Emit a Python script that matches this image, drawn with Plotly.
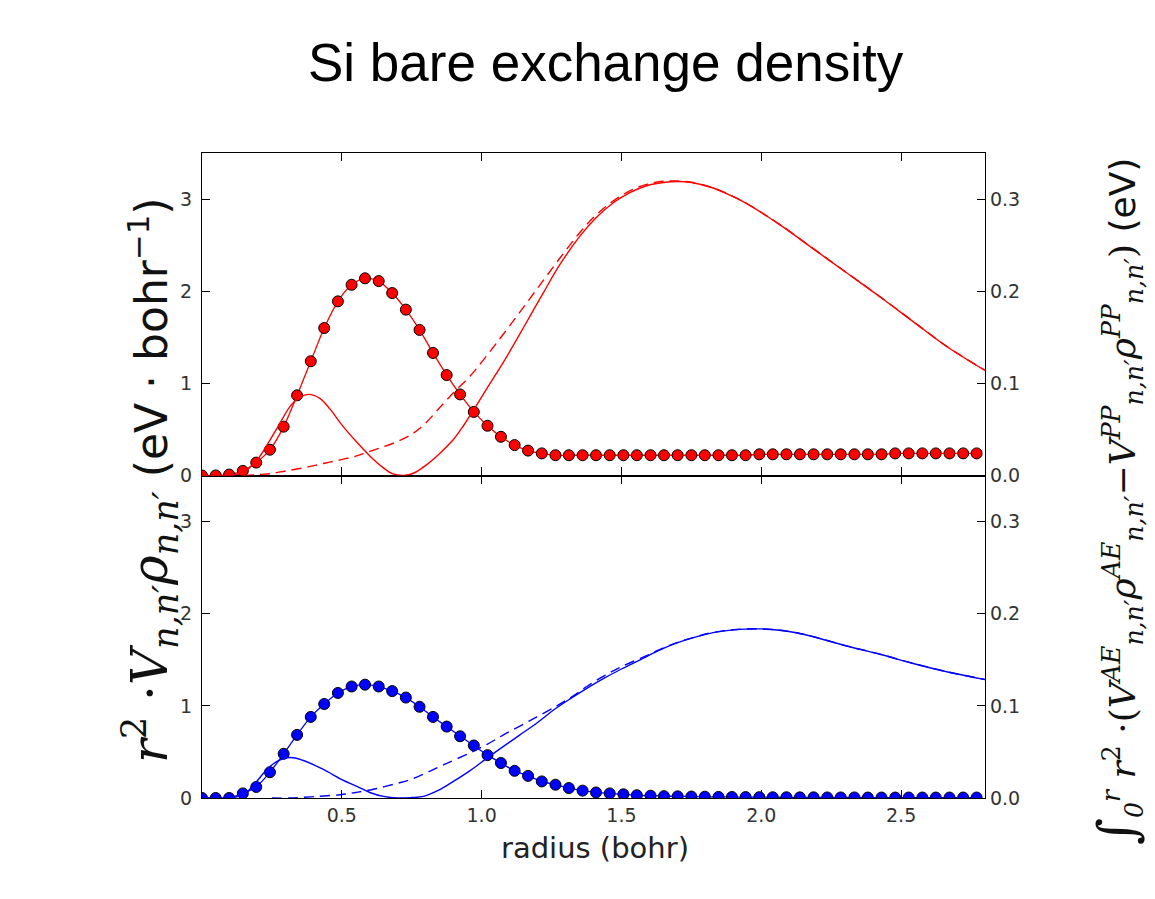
import plotly.graph_objects as go

# ---------------- data ----------------
r_grid = [0.000, 0.049, 0.097, 0.146, 0.194, 0.243, 0.292, 0.340, 0.389, 0.437,
          0.486, 0.535, 0.583, 0.632, 0.680, 0.729, 0.778, 0.826, 0.875, 0.923,
          0.972, 1.021, 1.069, 1.118, 1.166, 1.215, 1.264, 1.312, 1.361, 1.409,
          1.458, 1.507, 1.555, 1.604, 1.652, 1.701, 1.750, 1.798, 1.847, 1.895,
          1.944, 1.993, 2.041, 2.090, 2.138, 2.187, 2.236, 2.284, 2.333, 2.381,
          2.430, 2.479, 2.527, 2.576, 2.624, 2.673, 2.722, 2.770]

si_density = [0.00, 0.00, 0.01, 0.05, 0.14, 0.28, 0.53, 0.87, 1.24, 1.60,
              1.89, 2.07, 2.14, 2.11, 1.98, 1.80, 1.58, 1.33, 1.09, 0.88,
              0.69, 0.54, 0.42, 0.33, 0.27, 0.24, 0.22, 0.22, 0.22, 0.22,
              0.22, 0.22, 0.22, 0.22, 0.22, 0.22, 0.22, 0.22, 0.22, 0.22,
              0.22, 0.23, 0.23, 0.23, 0.23, 0.23, 0.23, 0.23, 0.23, 0.23,
              0.23, 0.24, 0.24, 0.24, 0.24, 0.24, 0.24, 0.24]

si2_density = [0.00, 0.00, 0.00, 0.05, 0.12, 0.28, 0.48, 0.685, 0.88, 1.02,
               1.14, 1.21, 1.23, 1.21, 1.16, 1.09, 0.99, 0.88, 0.775, 0.67,
               0.57, 0.465, 0.38, 0.295, 0.24, 0.18, 0.144, 0.108, 0.08, 0.06,
               0.05, 0.04, 0.03, 0.025, 0.02, 0.018, 0.016, 0.014, 0.012, 0.011,
               0.010, 0.009, 0.008, 0.008, 0.007, 0.007, 0.006, 0.006, 0.006, 0.005,
               0.005, 0.005, 0.005, 0.005, 0.005, 0.005, 0.005, 0.005]

red_int_r = [0.00, 0.10, 0.15, 0.20, 0.244, 0.27, 0.315, 0.35, 0.381, 0.42,
             0.458, 0.50, 0.554, 0.601, 0.65, 0.68, 0.72, 0.76, 0.80, 0.85,
             0.899, 0.935, 0.971, 1.02, 1.078, 1.126, 1.173, 1.22, 1.28, 1.352,
             1.41, 1.471, 1.53, 1.59, 1.65, 1.70, 1.75, 1.828, 1.89, 1.948,
             2.067, 2.186, 2.305, 2.424, 2.543, 2.663, 2.80]
red_int_v = [0.000, 0.000, 0.004, 0.018, 0.039, 0.052, 0.075, 0.085, 0.088, 0.084,
             0.072, 0.055, 0.036, 0.021, 0.008, 0.002, 0.000, 0.003, 0.011, 0.024,
             0.039, 0.054, 0.071, 0.095, 0.123, 0.148, 0.173, 0.198, 0.229, 0.260,
             0.280, 0.296, 0.307, 0.3145, 0.318, 0.319, 0.318, 0.312, 0.304, 0.295,
             0.272, 0.246, 0.220, 0.194, 0.167, 0.140, 0.114]

red_dash_r = [0.15, 0.20, 0.244, 0.30, 0.375, 0.434, 0.494, 0.55, 0.589, 0.637,
              0.70, 0.756, 0.80, 0.851, 0.90, 0.959, 1.00, 1.054, 1.126, 1.197,
              1.28, 1.352, 1.41, 1.471, 1.53, 1.59, 1.65, 1.70, 1.75, 1.828,
              1.89, 1.948, 2.067, 2.186, 2.305, 2.424, 2.543, 2.663, 2.80]
red_dash_v = [0.000, 0.001, 0.002, 0.005, 0.009, 0.013, 0.017, 0.021, 0.025, 0.030,
              0.037, 0.046, 0.057, 0.074, 0.090, 0.108, 0.123, 0.144, 0.173, 0.202,
              0.236, 0.264, 0.283, 0.298, 0.309, 0.316, 0.3193, 0.3196, 0.3183, 0.3122,
              0.3042, 0.2952, 0.2722, 0.2462, 0.2202, 0.1942, 0.1672, 0.1402, 0.1142]

blue_int_r = [0.00, 0.10, 0.148, 0.19, 0.232, 0.27, 0.315, 0.36, 0.434, 0.50,
              0.554, 0.60, 0.649, 0.70, 0.75, 0.792, 0.85, 0.899, 0.96, 1.018,
              1.078, 1.137, 1.20, 1.256, 1.316, 1.376, 1.435, 1.50, 1.59, 1.65,
              1.709, 1.77, 1.828, 1.90, 1.948, 2.00, 2.067, 2.13, 2.186, 2.305,
              2.424, 2.543, 2.663, 2.80]
blue_int_v = [0.0, 0.0, 0.0036, 0.016, 0.031, 0.040, 0.044, 0.041, 0.031, 0.020,
              0.0126, 0.006, 0.0017, 0.0, 0.0005, 0.0017, 0.009, 0.018, 0.030, 0.043,
              0.056, 0.0685, 0.082, 0.0952, 0.1075, 0.119, 0.1295, 0.140, 0.1535, 0.1625,
              0.1695, 0.1752, 0.1795, 0.1825, 0.1833, 0.1835, 0.182, 0.179, 0.175, 0.165,
              0.156, 0.146, 0.137, 0.1285]

blue_dash_r = [0.25, 0.315, 0.40, 0.494, 0.55, 0.613, 0.70, 0.744, 0.80, 0.863,
               0.959, 1.018, 1.078, 1.173, 1.269, 1.328, 1.376, 1.435, 1.50, 1.59,
               1.65, 1.709, 1.77, 1.828, 1.90, 1.948, 2.00, 2.067, 2.13, 2.186,
               2.305, 2.424, 2.543, 2.663, 2.80]
blue_dash_v = [0.0, 0.0, 0.0015, 0.0036, 0.006, 0.0095, 0.016, 0.0198, 0.027, 0.036,
               0.049, 0.058, 0.0685, 0.084, 0.100, 0.111, 0.121, 0.132, 0.1425, 0.1545,
               0.163, 0.1697, 0.1754, 0.1797, 0.1826, 0.1834, 0.1836, 0.1821, 0.1791, 0.1751,
               0.1651, 0.1561, 0.1461, 0.1371, 0.1286]

x_ticks = [0.5, 1.0, 1.5, 2.0, 2.5]
x_ticktext = ["0.5", "1.0", "1.5", "2.0", "2.5"]
yl_ticks = [0, 1, 2, 3]
yr_ticks = [0.0, 0.1, 0.2, 0.3]
yr_ticktext = ["0.0", "0.1", "0.2", "0.3"]

RED = "#ff0000"
BLUE = "#0000ff"

fig = go.Figure()

def add_panel(color, dens, int_r, int_v, dash_r, dash_v, xa, yl, yr):
    fig.add_trace(go.Scatter(x=dash_r, y=dash_v, xaxis=xa, yaxis=yr, mode="lines",
                             line=dict(color=color, width=1.4, dash="10px,6px", shape="spline", smoothing=1.0),
                             showlegend=False, hoverinfo="skip"))
    fig.add_trace(go.Scatter(x=int_r, y=int_v, xaxis=xa, yaxis=yr, mode="lines",
                             line=dict(color=color, width=1.4, shape="spline", smoothing=1.0),
                             showlegend=False, hoverinfo="skip"))
    fig.add_trace(go.Scatter(x=r_grid, y=dens, xaxis=xa, yaxis=yl, mode="lines+markers",
                             line=dict(color=color, width=1.3, shape="spline", smoothing=0.8),
                             marker=dict(size=11, color=color, line=dict(color="#000000", width=1)),
                             showlegend=False, hoverinfo="skip"))

add_panel(RED, si_density, red_int_r, red_int_v, red_dash_r, red_dash_v, "x2", "y3", "y4")
add_panel(BLUE, si2_density, blue_int_r, blue_int_v, blue_dash_r, blue_dash_v, "x", "y", "y2")

tickfont = dict(family="DejaVu Sans", size=19, color="#333333")
xcommon = dict(range=[0, 2.8], tickvals=x_ticks, ticktext=x_ticktext, ticks="inside",
               ticklen=8, tickwidth=1, tickcolor="black", mirror="ticks", showline=True,
               linecolor="black", linewidth=1.3, showgrid=False, zeroline=False, tickfont=tickfont)
ylcommon = dict(range=[0, 3.5], tickvals=yl_ticks, ticks="inside", ticklen=8, tickwidth=1,
                tickcolor="black", showline=True, linecolor="black", linewidth=1.3,
                showgrid=False, zeroline=False, tickfont=tickfont, ticklabelstandoff=5)
yrcommon = dict(range=[0, 0.35], tickvals=yr_ticks, ticktext=yr_ticktext, ticks="inside",
                ticklen=8, tickwidth=1, tickcolor="black", showline=True, linecolor="black",
                linewidth=1.3, showgrid=False, zeroline=False, tickfont=tickfont, side="right")

L, R, T, B = 202, 170, 153, 101
W, H = 1155, 899
pw = W - L - R
ph = H - T - B

def px2paper_x(px):
    return (px - L) / pw

def px2paper_y(py):
    return (H - B - py) / ph

fig.update_layout(
    width=W, height=H,
    margin=dict(l=L, r=R, t=T, b=B, pad=0),
    paper_bgcolor="white", plot_bgcolor="white",
    xaxis=dict(domain=[0, 1], anchor="y", **xcommon),
    xaxis2=dict(domain=[0, 1], anchor="y3", matches="x", showticklabels=False,
                **{k: v for k, v in xcommon.items() if k != "tickfont"}),
    yaxis=dict(domain=[0, 0.5], anchor="x", **ylcommon),
    yaxis2=dict(overlaying="y", anchor="x", **yrcommon),
    yaxis3=dict(domain=[0.5, 1], anchor="x2", **ylcommon),
    yaxis4=dict(overlaying="y3", anchor="x2", **yrcommon),
)

serif = "font-family:'DejaVu Serif'"
left_label = (f"<span style=\"{serif};font-size:50px\"><i>r</i><sup>2</sup> ·<i>V</i><sub><i>n,n′</i></sub>"
              f"<i>ρ</i><sub><i>n,n′</i></sub></span> (eV · bohr<sup>−1</sup>)")
right_label = (f"<span style=\"{serif}\"><span style=\"font-size:52px\">∫</span><sub><i>0</i></sub><sup><i>r</i></sup> "
               f"<i>r</i><sup>2</sup> ·(<i>V</i><sup><i>AE</i></sup><sub><i>n,n′</i></sub>"
               f"<i>ρ</i><sup><i>AE</i></sup><sub><i>n,n′</i></sub>−"
               f"<i>V</i><sup><i>PP</i></sup><sub><i>n,n′</i></sub>"
               f"<i>ρ</i><sup><i>PP</i></sup><sub><i>n,n′</i></sub>)</span> (eV)")

fig.add_annotation(text="Si bare exchange density", xref="paper", yref="paper",
                   x=px2paper_x(606), y=px2paper_y(62), xanchor="center", yanchor="middle",
                   showarrow=False, font=dict(family="Liberation Sans", size=53, color="black"))
fig.add_annotation(text="radius (bohr)", xref="paper", yref="paper",
                   x=px2paper_x(595), y=px2paper_y(848), xanchor="center", yanchor="middle",
                   showarrow=False, font=dict(family="DejaVu Sans", size=29, color="#222222"))
fig.add_annotation(text=left_label, xref="paper", yref="paper", textangle=-90,
                   x=px2paper_x(150), y=px2paper_y(480), xanchor="center", yanchor="middle",
                   showarrow=False, font=dict(family="DejaVu Sans", size=44, color="#111111"))
fig.add_annotation(text=right_label, xref="paper", yref="paper", textangle=-90,
                   x=px2paper_x(1118), y=px2paper_y(502), xanchor="center", yanchor="middle",
                   showarrow=False, font=dict(family="DejaVu Sans", size=36, color="#111111"))

fig.write_html("out.html")
